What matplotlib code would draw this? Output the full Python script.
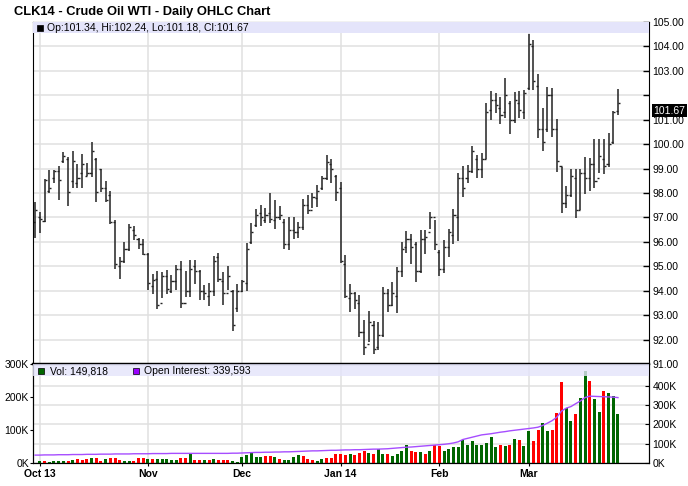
import numpy as np
import pandas as pd
import matplotlib
matplotlib.use("Agg")
import matplotlib.pyplot as plt
from matplotlib.patches import Rectangle
from matplotlib.transforms import blended_transform_factory

plt.rcParams['font.family'] = ['Liberation Sans', 'DejaVu Sans']

# trading days of CLK14, 30 Sep 2013 - 28 Mar 2014
holidays = ['2013-11-28', '2013-12-25', '2014-01-01', '2014-01-20', '2014-02-17']
dates = pd.bdate_range('2013-09-30', '2014-03-28')
dates = dates[~dates.isin(pd.to_datetime(holidays))]

opens = [96.8, 97.0, 96.85, 98.1, 98.6, 98.9, 99.3, 99.4, 98.5, 98.4,
         98.8, 98.7, 98.8, 99.4, 99.0, 98.2, 97.9, 96.8, 95.0, 95.2,
         95.7, 96.5, 96.1, 95.9, 95.5, 94.2, 94.5, 93.5, 94.6, 94.0,
         94.4, 94.9, 93.5, 94.0, 95.0, 94.8, 94.0, 93.8, 94.0, 95.4,
         94.4, 93.9, 94.0, 93.3, 94.0, 94.3, 96.0, 96.7, 97.2, 96.9,
         97.2, 96.9, 97.0, 96.8, 95.9, 96.5, 96.4, 96.6, 97.5, 97.3,
         97.8, 98.2, 98.6, 99.2, 98.7, 98.2, 95.1, 93.7, 93.9, 93.5,
         92.3, 91.8, 92.6, 91.7, 92.2, 93.9, 93.4, 93.8, 94.8, 95.8,
         96.1, 95.9, 94.8, 96.1, 96.4, 97.0, 95.6, 94.9, 95.8, 96.3,
         97.0, 98.6, 98.6, 98.9, 99.4, 99.0, 99.4, 101.4, 101.8, 101.5,
         101.3, 101.7, 101.0, 101.7, 101.3, 102.3, 104.0, 102.4, 100.6, 100.6,
         102.0, 100.6, 99.1, 97.6, 97.9, 98.6, 97.3, 98.8, 98.6, 99.2,
         98.6, 99.4, 99.2, 100.1, 101.34]
highs = [97.64, 97.23, 98.59, 98.93, 98.93, 99.10, 99.69, 99.48, 99.73, 99.20,
         99.59, 99.23, 100.10, 99.45, 99.00, 98.50, 98.10, 96.89, 95.38, 96.00,
         96.72, 96.64, 96.17, 96.13, 95.55, 94.70, 94.80, 94.77, 94.84, 94.63,
         95.07, 95.20, 94.81, 95.27, 95.27, 94.86, 94.22, 94.32, 95.41, 95.55,
         94.77, 95.00, 94.02, 94.29, 94.43, 95.96, 96.78, 97.36, 97.50, 97.40,
         97.98, 97.70, 97.46, 96.95, 97.02, 97.00, 96.82, 97.77, 97.91, 97.98,
         98.32, 98.69, 99.55, 99.41, 98.73, 98.46, 95.45, 94.29, 93.95, 93.81,
         92.79, 93.15, 92.76, 92.70, 94.15, 94.08, 94.36, 94.97, 96.00, 96.45,
         96.34, 96.00, 96.47, 96.48, 97.23, 96.89, 95.66, 96.09, 96.54, 97.36,
         98.82, 99.10, 99.14, 99.93, 99.55, 99.62, 101.67, 102.17, 102.08, 101.94,
         102.72, 101.76, 102.14, 102.17, 102.21, 104.49, 104.26, 102.86, 101.49, 102.35,
         102.28, 101.01, 99.07, 98.28, 99.00, 99.00, 99.00, 99.48, 99.44, 100.23,
         100.23, 100.23, 100.44, 101.35, 102.24]
lows = [96.17, 96.37, 96.82, 98.00, 98.42, 97.70, 99.23, 97.46, 98.22, 98.22,
        98.22, 98.69, 98.66, 97.64, 98.05, 97.64, 96.72, 94.90, 94.49, 95.14,
        95.63, 96.07, 95.72, 95.45, 94.04, 93.85, 93.27, 93.72, 93.88, 93.92,
        94.02, 93.31, 93.74, 93.74, 94.26, 93.60, 93.60, 93.36, 93.77, 94.36,
        93.40, 94.02, 92.35, 93.13, 93.95, 93.99, 95.90, 96.61, 96.64, 96.78,
        96.78, 96.54, 96.89, 95.72, 95.68, 96.13, 96.17, 96.48, 97.13, 97.40,
        97.43, 98.14, 98.52, 98.42, 97.68, 95.15, 93.70, 93.13, 93.27, 92.10,
        91.35, 91.90, 91.41, 91.56, 92.10, 93.13, 93.36, 93.09, 94.56, 95.55,
        95.10, 94.36, 94.73, 95.50, 96.54, 95.66, 94.59, 94.72, 95.38, 95.93,
        96.04, 97.85, 98.40, 98.80, 98.62, 98.62, 99.39, 100.98, 101.26, 100.81,
        101.05, 100.40, 100.85, 101.05, 101.02, 102.21, 102.21, 100.26, 99.71, 100.51,
        100.30, 98.87, 97.20, 97.39, 97.84, 96.98, 97.30, 97.94, 98.07, 98.21,
        98.80, 98.76, 99.07, 99.99, 101.18]
closes = [97.3, 96.95, 98.55, 98.2, 98.9, 98.55, 99.5, 98.05, 99.3, 98.6,
          99.2, 98.8, 99.73, 98.05, 98.2, 97.7, 96.8, 95.1, 95.2, 95.7,
          96.6, 96.3, 95.9, 95.5, 94.3, 94.45, 93.4, 94.6, 94.05, 94.4,
          94.9, 93.5, 94.0, 94.9, 94.8, 94.0, 93.9, 94.0, 95.2, 94.5,
          93.9, 94.6, 92.6, 94.0, 94.4, 95.7, 96.4, 97.1, 97.0, 97.1,
          96.95, 97.0, 97.1, 95.9, 96.5, 96.4, 96.6, 97.5, 97.3, 97.85,
          98.1, 98.6, 99.25, 99.0, 98.05, 95.2, 93.8, 93.9, 93.6, 92.3,
          91.7, 92.7, 91.6, 92.2, 93.9, 93.4, 93.9, 94.8, 95.7, 96.1,
          95.8, 94.8, 96.1, 96.2, 97.0, 95.9, 94.9, 95.8, 96.4, 97.1,
          98.6, 98.2, 98.9, 99.7, 99.0, 99.4, 101.3, 101.8, 101.6, 101.2,
          102.0, 101.0, 101.8, 101.4, 102.1, 104.1, 102.6, 100.6, 100.1, 102.0,
          100.6, 99.3, 97.6, 97.9, 98.7, 97.3, 98.8, 98.6, 99.2, 98.5,
          99.5, 99.1, 100.0, 101.3, 101.67]

# volume in thousands, g = up day, r = down day
volume = [1, 4.6, 6.7, 2.6, 4.6, 5.7, 5.7, 5.7, 9.8, 12.9,
          7.7, 10.8, 16, 16, 5.7, 10.8, 16, 16, 9.8, 6.7,
          6.7, 6.7, 16, 16, 12.9, 12.9, 12.9, 12.9, 12.9, 9.8,
          9.8, 16, 16, 27.3, 9.8, 9.8, 9.8, 9.8, 12.9, 7.7,
          9.8, 9.8, 5.7, 2.6, 18, 25.2, 30.4, 18, 17, 21,
          21, 18, 10.8, 9.8, 9.8, 18, 23, 20, 11.8, 9.8,
          5.7, 12.9, 14.9, 14.9, 27.3, 26.3, 25.2, 27.3, 25.2, 31.4,
          36.6, 29.4, 26.3, 41.7, 26.3, 26.3, 21.1, 26.3, 35.5, 54,
          35.5, 32.4, 32.4, 26.3, 35.5, 54, 53, 35.5, 43.8, 49,
          50, 69.5, 54, 66.4, 54, 54, 60.3, 78.8, 47.9, 54,
          52, 54, 72.6, 69.5, 52, 97.3, 66.4, 99.4, 121, 97.3,
          99.4, 151, 245, 168, 126, 148, 198, 279, 248, 193,
          154, 217, 211, 203, 149.818]
vol_dir = ("rgrggggrgr"
           "rrgrrgrrrg"
           "grrrgrgggg"
           "grrgrrgrgr"
           "rrgggggggr"
           "rgrggggrrr"
           "ggrrrrrgrr"
           "rgrggrgggg"
           "rrgrgrrggg"
           "gggggggggr"
           "grgrggrrgg"
           "rrrggrggrg"
           "grggg")
open_interest = [41, 41, 42, 42, 42, 43, 43, 43, 44, 44,
                 44, 45, 45, 45, 46, 46, 46, 47, 47, 47,
                 47, 48, 48, 48, 48, 49, 49, 49, 49, 50,
                 50, 50, 50, 50, 50, 50, 50, 50, 50, 50,
                 50, 50, 51, 51, 52, 53, 54, 55, 55, 56,
                 56, 57, 57, 58, 58, 59, 60, 61, 62, 63,
                 63, 64, 65, 66, 66, 67, 68, 68, 69, 69,
                 70, 71, 72, 72, 73, 74, 76, 78, 80, 82,
                 83, 85, 87, 89, 91, 93, 95, 97, 100, 104,
                 110, 122, 128, 134, 140, 146, 149, 152, 156, 160,
                 163, 167, 170, 173, 176, 179, 182, 186, 195, 207,
                 220, 238, 270, 285, 293, 308, 322, 340, 347, 346,
                 345, 344, 343, 342, 339.593]

price_ticks = np.arange(91, 106)
vol_ticks = [0, 100, 200, 300]
oi_ticks = [0, 100, 200, 300, 400]

idx = np.arange(len(dates))
starts = [i for i in range(1, len(dates)) if dates[i].month != dates[i - 1].month]
month_labels = [dates[i].strftime('%b %y') if i == starts[0] or dates[i].month == 1
                else dates[i].strftime('%b') for i in starts]

W, H = 688, 486
fig = plt.figure(figsize=(W / 100, H / 100), dpi=100)
ax = fig.add_axes([33 / W, 1 - 364 / H, 616 / W, 342 / H])
axv = fig.add_axes([33 / W, 1 - 463 / H, 616 / W, 99 / H], sharex=ax)

grid_c = '#e0e0e0'
bar_c = '#222222'

# ---- price panel
ax.vlines(idx, lows, highs, color=bar_c, lw=1.1)
ax.hlines(opens, idx - 0.45, idx, color=bar_c, lw=1.0)
ax.hlines(closes, idx, idx + 0.45, color=bar_c, lw=1.0)
ax.set_xlim(-0.45, 130.6)
ax.set_ylim(91, 105)
ax.yaxis.tick_right()
ax.set_yticks(price_ticks)
ax.set_yticklabels(['' if p == 102 else '%.2f' % p for p in price_ticks])
ax.tick_params(axis='y', direction='in', length=4, width=1, labelsize=7.5, pad=2.5)
ax.tick_params(axis='x', bottom=False, labelbottom=False)
ax.set_xticks(starts)
ax.grid(color=grid_c, lw=1.1)
ax.set_axisbelow(True)
ax.spines['bottom'].set_linewidth(1.6)
ax.add_patch(Rectangle((0, 1 - 11 / 342), 1, 11 / 342, transform=ax.transAxes,
                       fc='#e4e4fa', lw=0, zorder=3))

ax.annotate('%.2f' % closes[-1], xy=(1, closes[-1]),
            xycoords=blended_transform_factory(ax.transAxes, ax.transData),
            xytext=(3.3, -5.2), textcoords='offset points', color='white',
            fontsize=7.5, va='center', ha='left', annotation_clip=False,
            bbox=dict(boxstyle='square,pad=0.12', fc='black', ec='none'))

# ---- volume / open interest panel
axoi = axv.twinx()
axv.set_zorder(2)
axoi.set_zorder(1)
axv.patch.set_visible(False)
axoi.patch.set_visible(True)
axoi.patch.set_facecolor('white')

colors = ['#006600' if d == 'g' else '#ff0000' for d in vol_dir]
axv.bar(idx, np.array(volume) * 1000, width=0.64, color=colors, lw=0)
axv.set_ylim(0, 300000)
axv.set_yticks([v * 1000 for v in vol_ticks])
axv.set_yticklabels(['%dK' % v for v in vol_ticks])
axv.tick_params(axis='y', direction='out', length=2.5, labelsize=7.5, pad=0.5)
axv.set_xticks(starts)
axv.set_xticklabels(month_labels, fontweight='bold')
axv.tick_params(axis='x', direction='out', length=2, labelsize=7.5, pad=2)
axv.grid(axis='x', color=grid_c, lw=1.1)
axv.set_axisbelow(True)
axv.spines['top'].set_linewidth(1.6)

axoi.set_ylim(0, 514000)
axoi.set_yticks([v * 1000 for v in oi_ticks])
axoi.set_yticklabels(['%dK' % v for v in oi_ticks])
axoi.tick_params(axis='y', direction='in', length=3, labelsize=7.5, pad=2.5)
axoi.grid(axis='y', color=grid_c, lw=1.1)

axline = axv.twinx()
axline.set_zorder(3)
axline.set_ylim(axoi.get_ylim())
axline.plot(idx, np.array(open_interest) * 1000, color='#a64dff', lw=1.0)
axline.add_patch(Rectangle((0, 1 - 12 / 99), 1, 12 / 99, transform=axline.transAxes,
                           fc='#e4e4fa', alpha=0.8, lw=0))
axline.axis('off')

# ---- texts
fig.text(14 / W, 1 - 11.5 / H, 'CLK14 - Crude Oil WTI - Daily OHLC Chart',
         fontsize=9.3, fontweight='bold', va='center', ha='left')

fig.add_artist(Rectangle((37 / W, 1 - 31 / H), 6 / W, 6 / H, transform=fig.transFigure,
                         fc='black', ec='black', lw=0.5, zorder=10))
fig.text(47 / W, 1 - 28 / H, 'Op:%.2f, Hi:%.2f, Lo:%.2f, Cl:%.2f'
         % (opens[-1], highs[-1], lows[-1], closes[-1]),
         fontsize=7.5, va='center', ha='left', zorder=10)

fig.add_artist(Rectangle((38 / W, 1 - 374 / H), 6 / W, 6 / H, transform=fig.transFigure,
                         fc='#006600', ec='black', lw=0.5, zorder=10))
fig.text(50 / W, 1 - 371 / H, 'Vol: {:,}'.format(round(volume[-1] * 1000)),
         fontsize=7.5, va='center', ha='left', zorder=10)
fig.add_artist(Rectangle((133 / W, 1 - 374 / H), 6 / W, 6 / H, transform=fig.transFigure,
                         fc='#9900ff', ec='black', lw=0.5, zorder=10))
fig.text(144 / W, 1 - 371 / H, 'Open Interest: {:,}'.format(round(open_interest[-1] * 1000)),
         fontsize=7.5, va='center', ha='left', zorder=10)

fig.savefig('out.png', dpi=100)
